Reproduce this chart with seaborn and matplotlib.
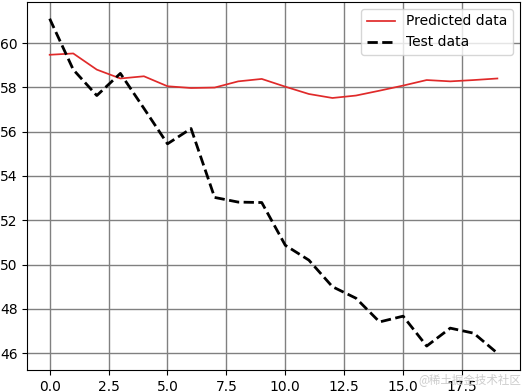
import matplotlib
matplotlib.use("Agg")
import matplotlib.pyplot as plt
import seaborn as sns
import numpy as np
import pandas as pd

x_vals = list(range(20))
predicted = [59.47, 59.53, 58.8, 58.4, 58.5, 58.05, 57.97, 57.99, 58.27, 58.38,
             58.03, 57.7, 57.52, 57.63, 57.85, 58.08, 58.33, 58.27, 58.33, 58.4]
test = [61.1, 58.8, 57.63, 58.63, 57.05, 55.45, 56.14, 53.03, 52.82, 52.8,
        50.87, 50.2, 49.0, 48.48, 47.41, 47.67, 46.32, 47.13, 46.9, 46.0]

df = pd.DataFrame({"x": x_vals, "pred": predicted, "test": test})

fig = plt.figure(figsize=(5.25, 3.91), dpi=100)
ax = fig.add_axes([0.052, 0.054, 0.938, 0.941])
sns.lineplot(data=df, x="x", y="pred", ax=ax, color="#e02a2a", linewidth=1.25,
             label="Predicted data")
sns.lineplot(data=df, x="x", y="test", ax=ax, color="black", linewidth=2.0,
             linestyle="--", label="Test data")
ax.set_xlabel("")
ax.set_ylabel("")
ax.grid(True, color="gray", linewidth=1.0)
ax.set_axisbelow(True)
ax.legend(loc="upper right")
fig.text(0.992, 0.012, "@稀土掘金技术社区", ha="right", va="bottom", fontsize=8.3,
         color="#cccccc", family=["Noto Sans CJK SC", "DejaVu Sans"])
fig.savefig("out.png", dpi=100)
